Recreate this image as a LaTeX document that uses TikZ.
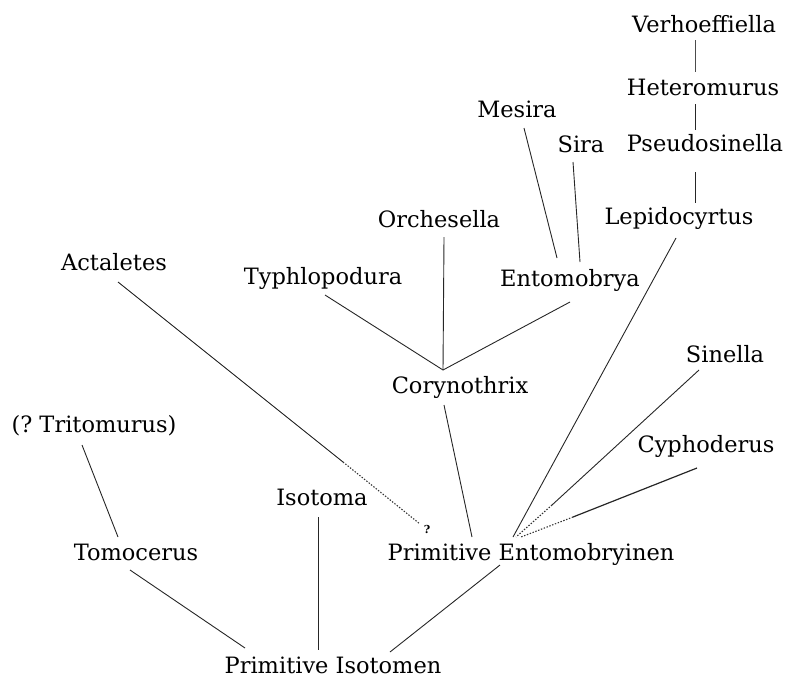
\documentclass[tikz,border=0pt]{standalone}
\usepackage{fontspec}
\setmainfont{DejaVu Serif}
\begin{document}
\begin{tikzpicture}[x=1pt,y=-1pt,
  taxon/.style={inner sep=0pt,anchor=base,font=\fontsize{22.5}{26}\selectfont},
  link/.style={line width=0.9pt,black!85},
  thinlink/.style={line width=0.6pt,black!70},
  dotlink/.style={line width=1.1pt,black!80,dash pattern=on 1.4pt off 1.6pt}]
\useasboundingbox (0,0) rectangle (789,683);
% taxa
\node[taxon] (verh) at (704,32) {Verhoeffiella};
\node[taxon] (hetero) at (703,95) {Heteromurus};
\node[taxon] (pseudo) at (705,151) {Pseudosinella};
\node[taxon] (lepido) at (679,224) {Lepidocyrtus};
\node[taxon] (mesira) at (517,117) {Mesira};
\node[taxon] (sira) at (581,152) {Sira};
\node[taxon] (orch) at (439,227) {Orchesella};
\node[taxon] (typh) at (323,284) {Typhlopodura};
\node[taxon] (ento) at (570,286) {Entomobrya};
\node[taxon] (acta) at (114,270) {Actaletes};
\node[taxon] (sinella) at (725,362) {Sinella};
\node[taxon] (coryn) at (460,393) {Corynothrix};
\node[taxon] (trito) at (94,432) {(?~Tritomurus)};
\node[taxon] (cypho) at (706,452) {Cyphoderus};
\node[taxon] (isotoma) at (322,505) {Isotoma};
\node[inner sep=0pt,font=\fontsize{11}{12}\selectfont\bfseries] (qm) at (427,529) {?};
\node[taxon] (tomo) at (136,560) {Tomocerus};
\node[taxon] (primE) at (531,560) {Primitive Entomobryinen};
\node[taxon] (primI) at (333,673) {Primitive Isotomen};
% connector end points
\coordinate (v1) at (695,40);   \coordinate (v2) at (695,72);
\coordinate (h1) at (695,104);  \coordinate (h2) at (695,130);
\coordinate (p1) at (695,172);  \coordinate (p2) at (695,203);
\coordinate (l1) at (676,238);  \coordinate (l2) at (513,537);
\coordinate (m1) at (524,128);  \coordinate (m2) at (557,258);
\coordinate (s1) at (573,162);  \coordinate (s2) at (580,262);
\coordinate (o1) at (444,237);  \coordinate (jn) at (443,370);
\coordinate (t1) at (325,295);  \coordinate (e1) at (570,302);
\coordinate (c1) at (444,405);  \coordinate (c2) at (472,537);
\coordinate (a1) at (118,282);  \coordinate (a2) at (343,462);  \coordinate (a3) at (420,524);
\coordinate (sn1) at (699,370); \coordinate (sn2) at (552,505); \coordinate (sn3) at (516,537);
\coordinate (cy1) at (697,468); \coordinate (cy2) at (573,517); \coordinate (cy3) at (521,537);
\coordinate (tr1) at (82,445);  \coordinate (tr2) at (118,537);
\coordinate (tm1) at (130,570); \coordinate (tm2) at (245,648);
\coordinate (is1) at (318,517); \coordinate (is2) at (318,650);
\coordinate (pe1) at (500,565); \coordinate (pe2) at (390,652);
% connectors
\draw[thinlink] (v1) -- (v2);
\draw[link] (h1) -- (h2);
\draw[link] (p1) -- (p2);
\draw[link] (l1) -- (l2);
\draw[link] (m1) -- (m2);
\draw[link] (s1) -- (s2);
\draw[link] (o1) -- (jn);
\draw[link] (t1) -- (jn);
\draw[link] (e1) -- (jn);
\draw[link] (c1) -- (c2);
\draw[link] (a1) -- (a2);
\draw[dotlink] (a2) -- (a3);
\draw[link] (sn1) -- (sn2);
\draw[dotlink] (sn2) -- (sn3);
\draw[link,line width=1.2pt] (cy1) -- (cy2);
\draw[dotlink] (cy2) -- (cy3);
\draw[link] (tr1) -- (tr2);
\draw[link] (tm1) -- (tm2);
\draw[link] (is1) -- (is2);
\draw[link] (pe1) -- (pe2);
\end{tikzpicture}
\end{document}
